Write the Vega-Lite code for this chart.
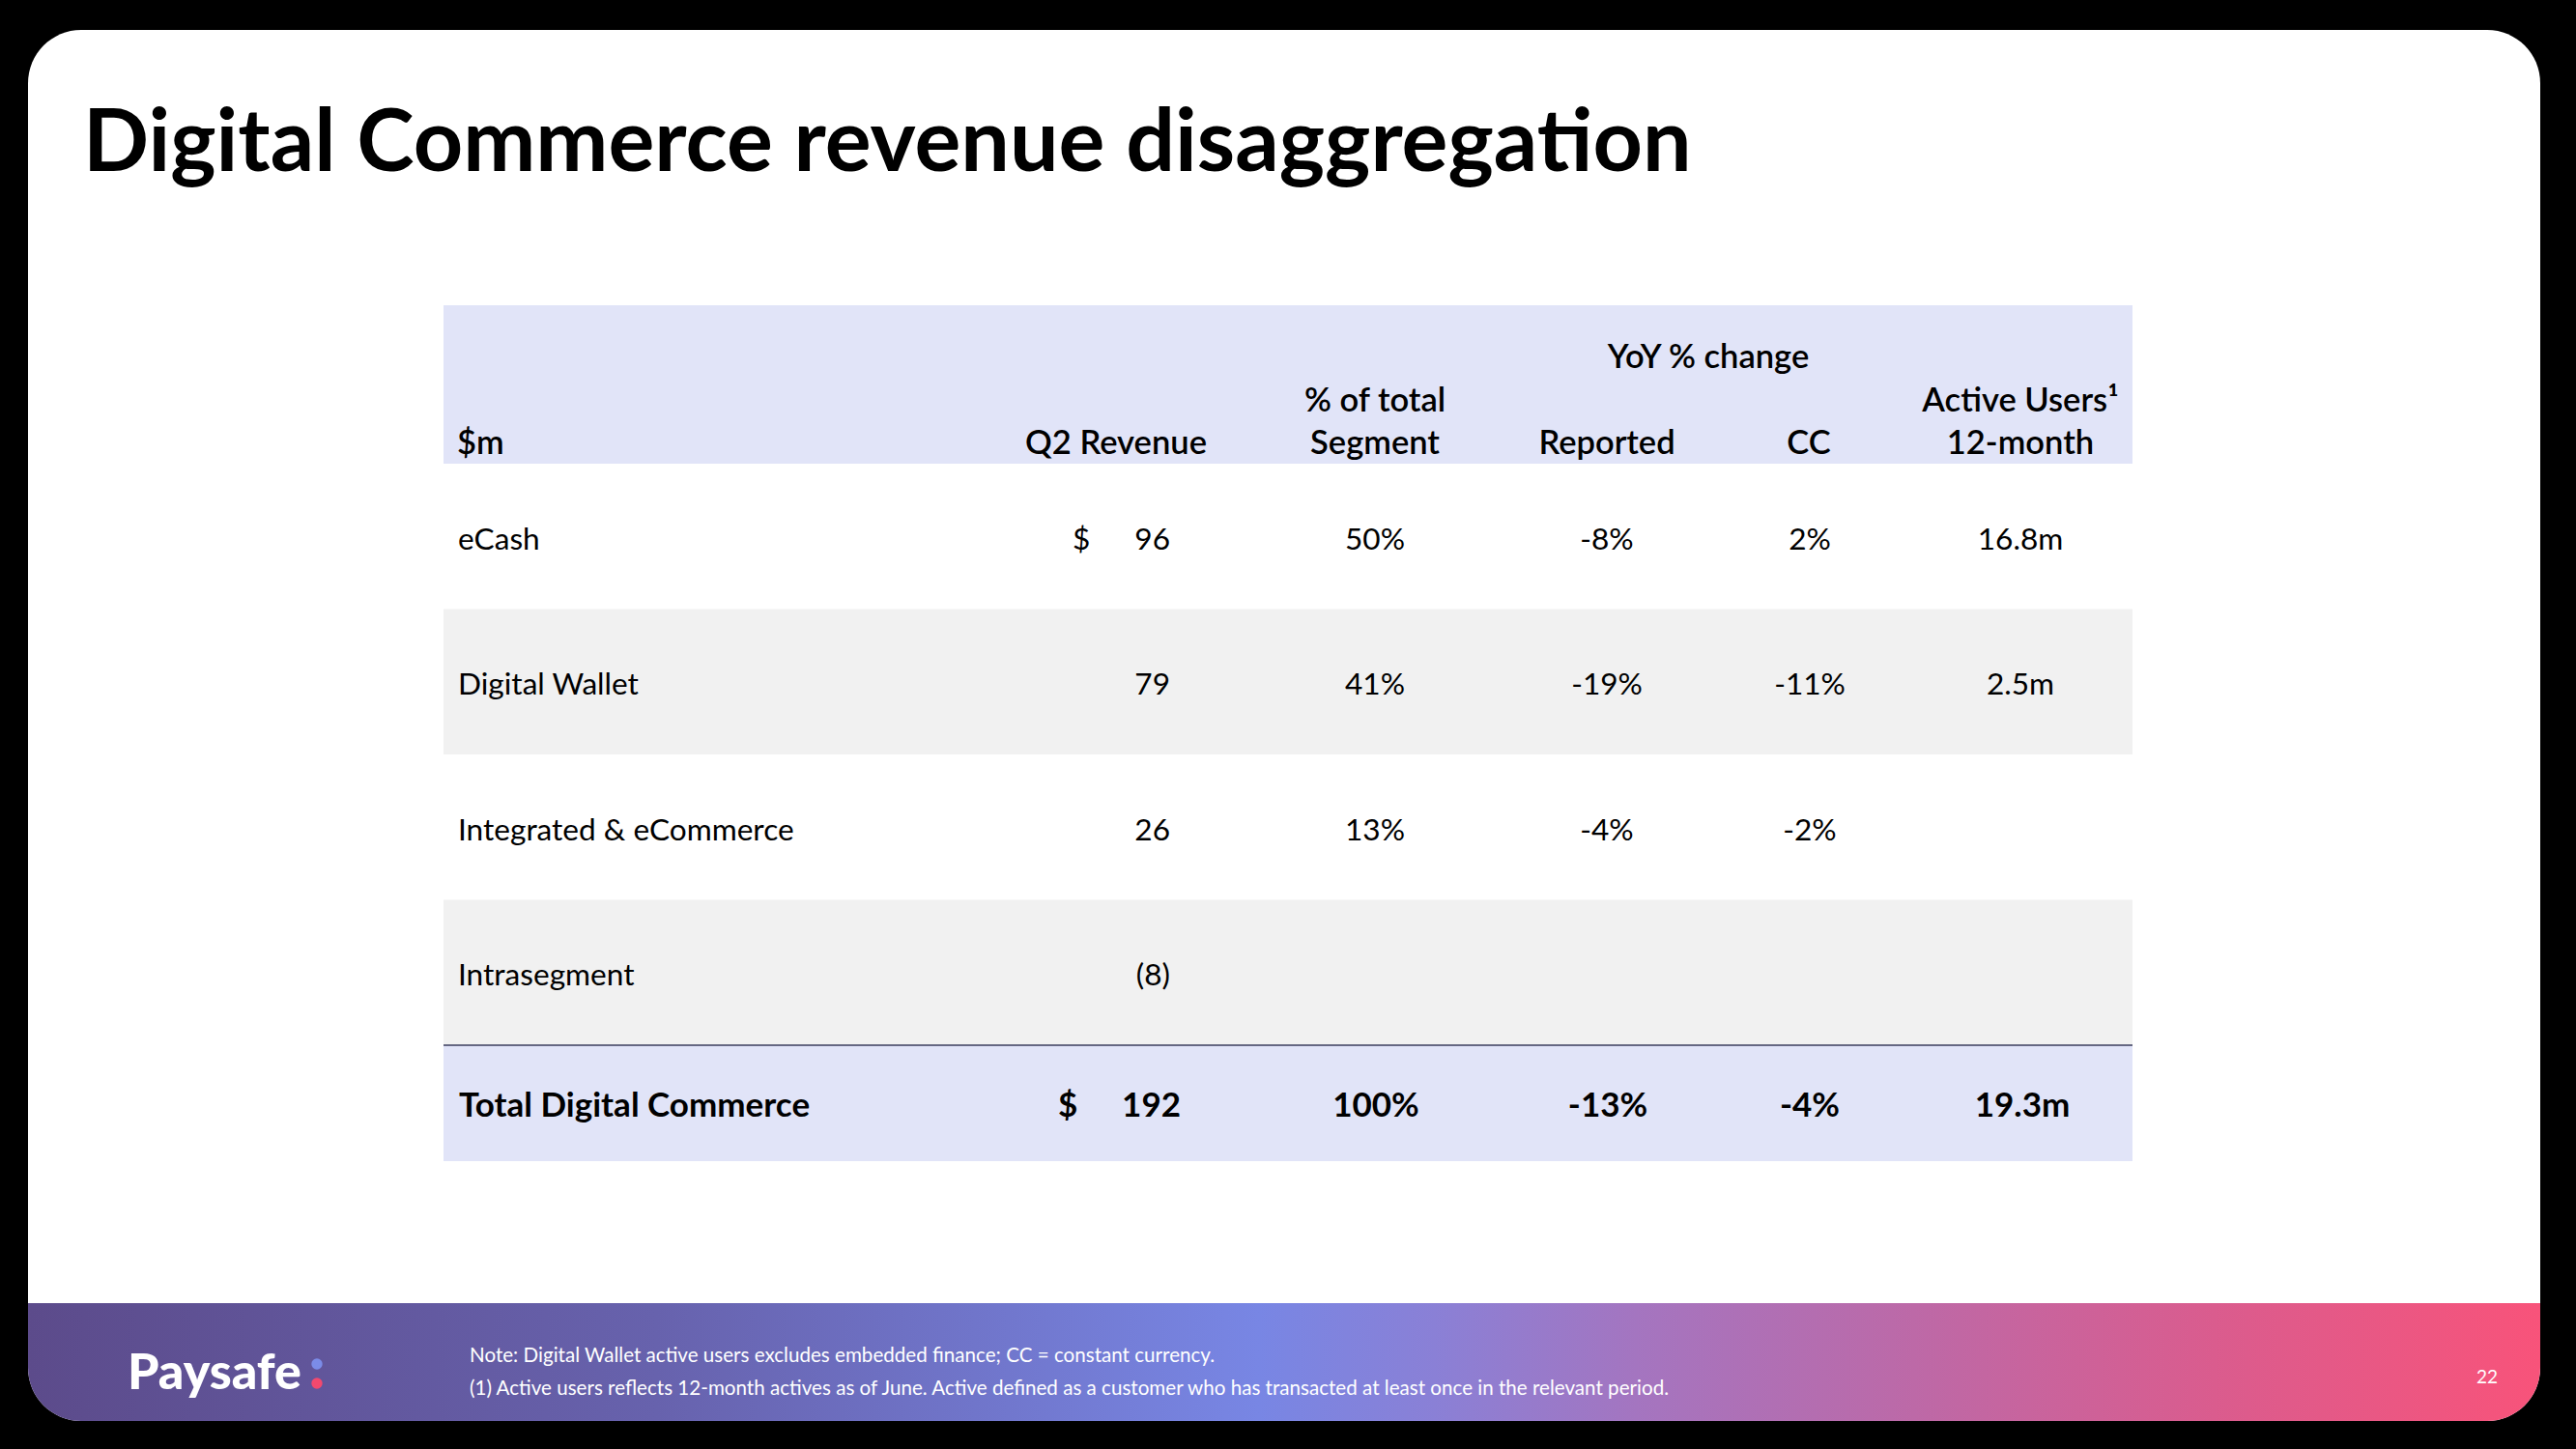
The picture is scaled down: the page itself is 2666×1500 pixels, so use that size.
{
  "$schema": "https://vega.github.io/schema/vega-lite/v6.json",
  "width": 2666,
  "height": 1500,
  "autosize": {"type": "fit", "contains": "padding"},
  "padding": {"left": 29, "top": 31, "right": 37, "bottom": 29},
  "background": "#000000",
  "config": {
    "view": {"fill": "#ffffff", "stroke": null, "cornerRadius": 55},
    "text": {"font": "Lato", "baseline": "alphabetic", "color": "#000000"}
  },
  "datasets": {
    "cells": [
      {"row": "eCash", "column": "cur", "value": "$"},
      {"row": "eCash", "column": "rev", "value": "96"},
      {"row": "eCash", "column": "share", "value": "50%"},
      {"row": "eCash", "column": "rep", "value": "-8%"},
      {"row": "eCash", "column": "cc", "value": "2%"},
      {"row": "eCash", "column": "users", "value": "16.8m"},
      {"row": "Digital Wallet", "column": "rev", "value": "79"},
      {"row": "Digital Wallet", "column": "share", "value": "41%"},
      {"row": "Digital Wallet", "column": "rep", "value": "-19%"},
      {"row": "Digital Wallet", "column": "cc", "value": "-11%"},
      {"row": "Digital Wallet", "column": "users", "value": "2.5m"},
      {"row": "Integrated & eCommerce", "column": "rev", "value": "26"},
      {"row": "Integrated & eCommerce", "column": "share", "value": "13%"},
      {"row": "Integrated & eCommerce", "column": "rep", "value": "-4%"},
      {"row": "Integrated & eCommerce", "column": "cc", "value": "-2%"},
      {"row": "Intrasegment", "column": "rev", "value": "(8)"},
      {"row": "Total Digital Commerce", "column": "cur", "value": "$"},
      {"row": "Total Digital Commerce", "column": "rev", "value": "192"},
      {"row": "Total Digital Commerce", "column": "share", "value": "100%"},
      {"row": "Total Digital Commerce", "column": "rep", "value": "-13%"},
      {"row": "Total Digital Commerce", "column": "cc", "value": "-4%"},
      {"row": "Total Digital Commerce", "column": "users", "value": "19.3m"}
    ],
    "header": [
      {"column": "label", "line": 2, "text": "$m"},
      {"column": "rev", "line": 2, "text": "Q2 Revenue"},
      {"column": "share", "line": 1, "text": "% of total"},
      {"column": "share", "line": 2, "text": "Segment"},
      {"column": "yoy", "line": 0, "text": "YoY % change"},
      {"column": "rep", "line": 2, "text": "Reported"},
      {"column": "cc", "line": 2, "text": "CC"},
      {"column": "users", "line": 1, "text": "Active Users¹"},
      {"column": "users", "line": 2, "text": "12-month"}
    ],
    "slide": [
      {"item": "title", "text": "Digital Commerce revenue disaggregation"},
      {"item": "note1", "text": "Note: Digital Wallet active users excludes embedded finance; CC = constant currency."},
      {"item": "note2", "text": "(1) Active users reflects 12-month actives as of June. Active defined as a customer who has transacted at least once in the relevant period."},
      {"item": "page", "text": "22"},
      {"item": "logo", "text": "Paysafe"}
    ],
    "panels": [{"panel": "header"}, {"panel": "footer"}],
    "dots": [{"dot": "upper"}, {"dot": "lower"}]
  },
  "layer": [
    {
      "data": {"name": "panels"},
      "transform": [{"filter": "datum.panel === 'footer'"}],
      "mark": {
        "type": "rect",
        "cornerRadiusBottomLeft": 55,
        "cornerRadiusBottomRight": 55,
        "fill": {
          "gradient": "linear", "x1": 0, "y1": 0, "x2": 1, "y2": 0,
          "stops": [
            {"offset": 0, "color": "#5c4b8b"},
            {"offset": 0.25, "color": "#6762ad"},
            {"offset": 0.49, "color": "#7886e4"},
            {"offset": 0.56, "color": "#8a80d6"},
            {"offset": 0.64, "color": "#a475c0"},
            {"offset": 0.76, "color": "#bf68a5"},
            {"offset": 0.87, "color": "#da5c8e"},
            {"offset": 1, "color": "#f8537a"}
          ]
        }
      },
      "encoding": {
        "x": {"field": "panel", "type": "nominal", "scale": {"type": "band", "domain": ["footer"], "range": [0, 2600], "paddingInner": 0, "paddingOuter": 0}, "axis": null},
        "y": {"field": "panel", "type": "nominal", "scale": {"type": "band", "domain": ["footer"], "range": [1318, 1440], "paddingInner": 0, "paddingOuter": 0}, "axis": null}
      }
    },
    {
      "data": {"name": "panels"},
      "transform": [{"filter": "datum.panel === 'header'"}],
      "mark": {"type": "rect", "fill": "#e1e4f8"},
      "encoding": {
        "x": {"field": "panel", "type": "nominal", "scale": {"type": "band", "domain": ["header"], "range": [430, 2178], "paddingInner": 0, "paddingOuter": 0}, "axis": null},
        "y": {"field": "panel", "type": "nominal", "scale": {"type": "band", "domain": ["header"], "range": [285, 449], "paddingInner": 0, "paddingOuter": 0}, "axis": null}
      }
    },
    {
      "data": {"name": "cells"},
      "transform": [{"filter": "datum.column === 'rev' && (datum.row === 'Digital Wallet' || datum.row === 'Intrasegment')"}],
      "mark": {"type": "rect", "fill": "#f1f1f1"},
      "encoding": {
        "x": {"field": "column", "type": "nominal", "scale": {"type": "band", "domain": ["rev"], "range": [430, 2178], "paddingInner": 0, "paddingOuter": 0}, "axis": null},
        "y": {"field": "row", "type": "nominal", "scale": {"type": "band", "domain": ["eCash", "Digital Wallet", "Integrated & eCommerce", "Intrasegment"], "range": [449, 1051], "paddingInner": 0, "paddingOuter": 0}, "axis": null}
      }
    },
    {
      "data": {"name": "cells"},
      "transform": [{"filter": "datum.column === 'rev' && datum.row === 'Total Digital Commerce'"}],
      "mark": {"type": "rect", "fill": "#e1e4f8"},
      "encoding": {
        "x": {"field": "column", "type": "nominal", "scale": {"type": "band", "domain": ["rev"], "range": [430, 2178], "paddingInner": 0, "paddingOuter": 0}, "axis": null},
        "y": {"field": "row", "type": "nominal", "scale": {"type": "band", "domain": ["Total Digital Commerce"], "range": [1051, 1171], "paddingInner": 0, "paddingOuter": 0}, "axis": null}
      }
    },
    {
      "data": {"name": "cells"},
      "transform": [{"filter": "datum.column === 'rev' && datum.row === 'Total Digital Commerce'"}],
      "mark": {"type": "rect", "fill": "#3a3d5c"},
      "encoding": {
        "x": {"field": "column", "type": "nominal", "scale": {"type": "band", "domain": ["rev"], "range": [430, 2178], "paddingInner": 0, "paddingOuter": 0}, "axis": null},
        "y": {"field": "row", "type": "nominal", "scale": {"type": "band", "domain": ["Total Digital Commerce"], "range": [1050.3, 1051.8], "paddingInner": 0, "paddingOuter": 0}, "axis": null}
      }
    },
    {
      "data": {"name": "slide"},
      "transform": [{"filter": "datum.item === 'title'"}],
      "mark": {"type": "text", "align": "left", "fontSize": 89.7, "fontWeight": 700},
      "encoding": {
        "x": {"field": "item", "type": "nominal", "scale": {"type": "point", "domain": ["title"], "range": [57, 57]}, "axis": null},
        "y": {"field": "item", "type": "nominal", "scale": {"type": "point", "domain": ["title"], "range": [146, 146]}, "axis": null},
        "text": {"field": "text"}
      }
    },
    {
      "data": {"name": "slide"},
      "transform": [{"filter": "datum.item === 'note1' || datum.item === 'note2'"}],
      "mark": {"type": "text", "align": "left", "fontSize": 20.6, "color": "#ffffff"},
      "encoding": {
        "x": {"field": "item", "type": "nominal", "scale": {"type": "point", "domain": ["note1", "note2"], "range": [457, 457]}, "axis": null},
        "y": {"field": "item", "type": "nominal", "scale": {"type": "point", "domain": ["note1", "note2"], "range": [1379, 1413], "padding": 0}, "axis": null},
        "text": {"field": "text"}
      }
    },
    {
      "data": {"name": "slide"},
      "transform": [{"filter": "datum.item === 'page'"}],
      "mark": {"type": "text", "align": "center", "fontSize": 19, "color": "#ffffff"},
      "encoding": {
        "x": {"field": "item", "type": "nominal", "scale": {"type": "point", "domain": ["page"], "range": [2545, 2545]}, "axis": null},
        "y": {"field": "item", "type": "nominal", "scale": {"type": "point", "domain": ["page"], "range": [1401, 1401]}, "axis": null},
        "text": {"field": "text"}
      }
    },
    {
      "data": {"name": "slide"},
      "transform": [{"filter": "datum.item === 'logo'"}],
      "mark": {"type": "text", "align": "left", "fontSize": 52, "fontWeight": 900, "color": "#ffffff"},
      "encoding": {
        "x": {"field": "item", "type": "nominal", "scale": {"type": "point", "domain": ["logo"], "range": [103, 103]}, "axis": null},
        "y": {"field": "item", "type": "nominal", "scale": {"type": "point", "domain": ["logo"], "range": [1407, 1407]}, "axis": null},
        "text": {"field": "text"}
      }
    },
    {
      "data": {"name": "dots"},
      "mark": {"type": "point", "filled": true, "shape": "circle", "size": 130, "opacity": 1},
      "encoding": {
        "x": {"field": "dot", "type": "nominal", "scale": {"type": "point", "domain": ["upper", "lower"], "range": [299, 299]}, "axis": null},
        "y": {"field": "dot", "type": "nominal", "scale": {"type": "point", "domain": ["upper", "lower"], "range": [1381, 1401], "padding": 0}, "axis": null},
        "color": {"field": "dot", "type": "nominal", "scale": {"domain": ["upper", "lower"], "range": ["#7b8ce8", "#f2496e"]}, "legend": null}
      }
    },
    {
      "data": {"name": "header"},
      "encoding": {
        "y": {"field": "line", "type": "ordinal", "scale": {"type": "point", "domain": [0, 1, 2], "range": [350, 439], "padding": 0}, "axis": null},
        "text": {"field": "text"}
      },
      "layer": [
        {"transform": [{"filter": "datum.column === 'label'"}], "mark": {"type": "text", "align": "left", "fontSize": 34.5, "fontWeight": 600},
         "encoding": {"x": {"field": "column", "type": "nominal", "scale": {"type": "point", "domain": ["label"], "range": [444, 444]}, "axis": null}}},
        {"transform": [{"filter": "datum.column === 'rev'"}], "mark": {"type": "text", "align": "center", "fontSize": 34.5, "fontWeight": 600},
         "encoding": {"x": {"field": "column", "type": "nominal", "scale": {"type": "point", "domain": ["rev"], "range": [1126, 1126]}, "axis": null}}},
        {"transform": [{"filter": "datum.column === 'share'"}], "mark": {"type": "text", "align": "center", "fontSize": 34.5, "fontWeight": 600},
         "encoding": {"x": {"field": "column", "type": "nominal", "scale": {"type": "point", "domain": ["share"], "range": [1394, 1394]}, "axis": null}}},
        {"transform": [{"filter": "datum.column === 'yoy'"}], "mark": {"type": "text", "align": "center", "fontSize": 34.5, "fontWeight": 600},
         "encoding": {"x": {"field": "column", "type": "nominal", "scale": {"type": "point", "domain": ["yoy"], "range": [1739, 1739]}, "axis": null}}},
        {"transform": [{"filter": "datum.column === 'rep'"}], "mark": {"type": "text", "align": "center", "fontSize": 34.5, "fontWeight": 600},
         "encoding": {"x": {"field": "column", "type": "nominal", "scale": {"type": "point", "domain": ["rep"], "range": [1634, 1634]}, "axis": null}}},
        {"transform": [{"filter": "datum.column === 'cc'"}], "mark": {"type": "text", "align": "center", "fontSize": 34.5, "fontWeight": 600},
         "encoding": {"x": {"field": "column", "type": "nominal", "scale": {"type": "point", "domain": ["cc"], "range": [1843, 1843]}, "axis": null}}},
        {"transform": [{"filter": "datum.column === 'users'"}], "mark": {"type": "text", "align": "center", "fontSize": 34.5, "fontWeight": 600},
         "encoding": {"x": {"field": "column", "type": "nominal", "scale": {"type": "point", "domain": ["users"], "range": [2062, 2062]}, "axis": null}}}
      ],
      "resolve": {"scale": {"x": "independent"}}
    },
    {
      "data": {"name": "cells"},
      "transform": [{"filter": "datum.row !== 'Total Digital Commerce'"}],
      "encoding": {
        "y": {"field": "row", "type": "nominal", "bandPosition": 0.591, "scale": {"type": "band", "domain": ["eCash", "Digital Wallet", "Integrated & eCommerce", "Intrasegment"], "range": [449, 1051], "paddingInner": 0, "paddingOuter": 0}, "axis": null}
      },
      "layer": [
        {"transform": [{"filter": "datum.column === 'rev'"}], "mark": {"type": "text", "align": "left", "fontSize": 31.6},
         "encoding": {"x": {"datum": "label", "type": "nominal", "scale": {"type": "point", "domain": ["label"], "range": [445, 445]}, "axis": null}, "text": {"field": "row"}}},
        {"transform": [{"filter": "datum.column === 'cur'"}], "mark": {"type": "text", "align": "left", "fontSize": 31.6},
         "encoding": {"x": {"field": "column", "type": "nominal", "scale": {"type": "point", "domain": ["cur"], "range": [1081, 1081]}, "axis": null}, "text": {"field": "value"}}},
        {"transform": [{"filter": "datum.column === 'rev'"}], "mark": {"type": "text", "align": "right", "fontSize": 31.6},
         "encoding": {"x": {"field": "column", "type": "nominal", "scale": {"type": "point", "domain": ["rev"], "range": [1182, 1182]}, "axis": null}, "text": {"field": "value"}}},
        {"transform": [{"filter": "datum.column === 'share'"}], "mark": {"type": "text", "align": "center", "fontSize": 31.6},
         "encoding": {"x": {"field": "column", "type": "nominal", "scale": {"type": "point", "domain": ["share"], "range": [1394, 1394]}, "axis": null}, "text": {"field": "value"}}},
        {"transform": [{"filter": "datum.column === 'rep'"}], "mark": {"type": "text", "align": "center", "fontSize": 31.6},
         "encoding": {"x": {"field": "column", "type": "nominal", "scale": {"type": "point", "domain": ["rep"], "range": [1634, 1634]}, "axis": null}, "text": {"field": "value"}}},
        {"transform": [{"filter": "datum.column === 'cc'"}], "mark": {"type": "text", "align": "center", "fontSize": 31.6},
         "encoding": {"x": {"field": "column", "type": "nominal", "scale": {"type": "point", "domain": ["cc"], "range": [1844, 1844]}, "axis": null}, "text": {"field": "value"}}},
        {"transform": [{"filter": "datum.column === 'users'"}], "mark": {"type": "text", "align": "center", "fontSize": 31.6},
         "encoding": {"x": {"field": "column", "type": "nominal", "scale": {"type": "point", "domain": ["users"], "range": [2062, 2062]}, "axis": null}, "text": {"field": "value"}}}
      ],
      "resolve": {"scale": {"x": "independent"}}
    },
    {
      "data": {"name": "cells"},
      "transform": [{"filter": "datum.row === 'Total Digital Commerce'"}],
      "encoding": {
        "y": {"field": "row", "type": "nominal", "bandPosition": 0.617, "scale": {"type": "band", "domain": ["Total Digital Commerce"], "range": [1051, 1171], "paddingInner": 0, "paddingOuter": 0}, "axis": null}
      },
      "layer": [
        {"transform": [{"filter": "datum.column === 'rev'"}], "mark": {"type": "text", "align": "left", "fontSize": 35, "fontWeight": 700},
         "encoding": {"x": {"datum": "label", "type": "nominal", "scale": {"type": "point", "domain": ["label"], "range": [446, 446]}, "axis": null}, "text": {"field": "row"}}},
        {"transform": [{"filter": "datum.column === 'cur'"}], "mark": {"type": "text", "align": "left", "fontSize": 35, "fontWeight": 700},
         "encoding": {"x": {"field": "column", "type": "nominal", "scale": {"type": "point", "domain": ["cur"], "range": [1066, 1066]}, "axis": null}, "text": {"field": "value"}}},
        {"transform": [{"filter": "datum.column === 'rev'"}], "mark": {"type": "text", "align": "right", "fontSize": 35, "fontWeight": 700},
         "encoding": {"x": {"field": "column", "type": "nominal", "scale": {"type": "point", "domain": ["rev"], "range": [1193, 1193]}, "axis": null}, "text": {"field": "value"}}},
        {"transform": [{"filter": "datum.column === 'share'"}], "mark": {"type": "text", "align": "center", "fontSize": 35, "fontWeight": 700},
         "encoding": {"x": {"field": "column", "type": "nominal", "scale": {"type": "point", "domain": ["share"], "range": [1395, 1395]}, "axis": null}, "text": {"field": "value"}}},
        {"transform": [{"filter": "datum.column === 'rep'"}], "mark": {"type": "text", "align": "center", "fontSize": 35, "fontWeight": 700},
         "encoding": {"x": {"field": "column", "type": "nominal", "scale": {"type": "point", "domain": ["rep"], "range": [1635, 1635]}, "axis": null}, "text": {"field": "value"}}},
        {"transform": [{"filter": "datum.column === 'cc'"}], "mark": {"type": "text", "align": "center", "fontSize": 35, "fontWeight": 700},
         "encoding": {"x": {"field": "column", "type": "nominal", "scale": {"type": "point", "domain": ["cc"], "range": [1844, 1844]}, "axis": null}, "text": {"field": "value"}}},
        {"transform": [{"filter": "datum.column === 'users'"}], "mark": {"type": "text", "align": "center", "fontSize": 35, "fontWeight": 700},
         "encoding": {"x": {"field": "column", "type": "nominal", "scale": {"type": "point", "domain": ["users"], "range": [2064, 2064]}, "axis": null}, "text": {"field": "value"}}}
      ],
      "resolve": {"scale": {"x": "independent"}}
    }
  ],
  "resolve": {"scale": {"x": "independent", "y": "independent", "color": "independent"}}
}
